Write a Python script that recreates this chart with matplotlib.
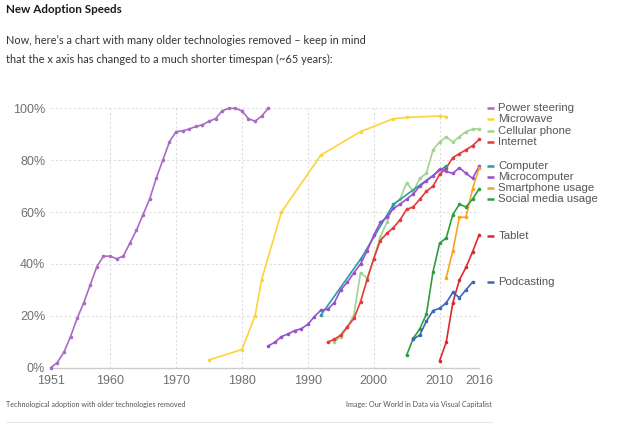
import matplotlib
matplotlib.use("Agg")
import matplotlib.pyplot as plt

# ---------------- data ----------------
ps_years = list(range(1951, 1985))
ps_vals = [0, 2, 6, 12, 19, 25, 32, 39, 43, 43, 42, 43, 48, 53, 59, 65, 73, 80, 87, 91,
           91.3, 92, 93, 93.6, 95, 96, 99, 100, 100, 99, 96, 95, 97, 100]

mw_years = [1975, 1980, 1982, 1983, 1986, 1992, 1998, 2003, 2005, 2010, 2011]
mw_vals = [3, 7, 20, 34, 60, 82, 91, 96, 96.5, 97, 96.8]

cell_years = list(range(1994, 2017))
cell_vals = [9.8, 12, 15.5, 20.5, 36.6, 34.5, 42, 50.5, 56, 62.7, 65, 71.3, 68, 73, 75,
             84, 87, 89, 87, 89, 91, 92, 92]

net_years = list(range(1993, 2017))
net_vals = [9.8, 10.9, 12.6, 15.8, 19, 25.4, 34, 42, 49, 51.8, 54, 57, 61, 62, 65, 68,
            70, 74.5, 77, 81, 82.5, 84, 85.6, 88]

comp_years = [1992, 1998, 2003, 2011]
comp_vals = [20.3, 41.8, 63, 77.8]

micro_years = list(range(1984, 2017))
micro_vals = [8.4, 9.8, 12, 13, 14.3, 15, 16.7, 19.7, 22.2, 22.5, 25, 30, 33, 36.6, 40,
              45, 51, 56, 58, 61.4, 63, 65, 67, 70, 72, 74, 76.6, 75.7, 74.9, 77.1, 74.9,
              73, 77.7]

smart_years = list(range(2011, 2017))
smart_vals = [34.7, 45, 58, 58, 69, 77]

social_years = list(range(2005, 2017))
social_vals = [4.9, 11.3, 15, 20.7, 37, 48, 50, 59, 63, 62, 65, 69]

tablet_years = list(range(2010, 2017))
tablet_vals = [2.7, 9.8, 25, 33.8, 38.7, 44.7, 51.2]

pod_years = list(range(2006, 2016))
pod_vals = [11, 12.6, 18, 22, 22.9, 25, 29, 27, 30, 33]

series_names = ["Power steering", "Microwave", "Cellular phone", "Internet", "Computer",
                "Microcomputer", "Smartphone usage", "Social media usage", "Tablet",
                "Podcasting"]

x_ticks = [1951, 1960, 1970, 1980, 1990, 2000, 2010, 2016]
y_ticks = [0, 20, 40, 60, 80, 100]

# ---------------- style ----------------
colors = ["#a86cc4", "#fcd43a", "#9fd590", "#e8383a", "#2a9aa6",
          "#9b4fcf", "#f8a227", "#2f9c40", "#d92b2e", "#3a67b6"]
# vertical label positions (in % units) for the end labels
label_y = [100, 95.8, 91.1, 86.9, 77.9, 73.6, 69.1, 65.0, 50.9, 32.9]

series = [(ps_years, ps_vals), (mw_years, mw_vals), (cell_years, cell_vals),
          (net_years, net_vals), (comp_years, comp_vals), (micro_years, micro_vals),
          (smart_years, smart_vals), (social_years, social_vals),
          (tablet_years, tablet_vals), (pod_years, pod_vals)]

plt.rcParams['font.family'] = ['Liberation Sans', 'DejaVu Sans']

fig = plt.figure(figsize=(6.4, 4.33), dpi=100)
ax = fig.add_axes([0.0793, 0.1508, 0.7487 - 0.0793, 0.7499 - 0.1508])
ax.set_xlim(1951, 2016)
ax.set_ylim(0, 100)

for gx in [1960, 1970, 1980, 1990, 2000, 2010]:
    ax.axvline(gx, color="#dddddd", lw=0.8, ls=(0, (2, 2)), zorder=0)
for gy in [20, 40, 60, 80, 100]:
    ax.axhline(gy, color="#dddddd", lw=0.8, ls=(0, (2, 2)), zorder=0)

for (xs, ys), c in zip(series, colors):
    ax.plot(xs, ys, color=c, lw=1.2, marker="o", ms=2.6, mew=0, clip_on=False, zorder=3)

for spine in ["top", "right", "left"]:
    ax.spines[spine].set_visible(False)
ax.spines["bottom"].set_color("#cccccc")
ax.spines["bottom"].set_linewidth(1.0)

ax.set_xticks(x_ticks)
ax.set_xticklabels([str(t) for t in x_ticks])
ax.set_yticks(y_ticks)
ax.set_yticklabels([f"{t}%" for t in y_ticks])
ax.tick_params(axis="both", length=0, labelsize=9, labelcolor="#707070")
ax.tick_params(axis="x", pad=5.5)
ax.tick_params(axis="y", pad=4)

# end labels (legend)
for name, c, ly in zip(series_names, colors, label_y):
    ax.plot([2017.2, 2018.2], [ly, ly], color=c, lw=1.8, clip_on=False,
            solid_capstyle="butt")
    ax.text(2018.9, ly, name, fontsize=8.2, color="#555555", va="center",
            ha="left", clip_on=False)

# titles
fig.text(6.5 / 640, 1 - 9.5 / 433, "New Adoption Speeds", fontsize=8.4,
         fontweight="bold", color="#1a1a1a", va="center", ha="left",
         family=["Lato", "DejaVu Sans"])
fig.text(6.5 / 640, 1 - 40 / 433,
         "Now, here\u2019s a chart with many older technologies removed \u2013 keep in mind",
         fontsize=7.95, color="#333333", va="center", ha="left",
         family=["Lato", "DejaVu Sans"])
fig.text(6.5 / 640, 1 - 59.3 / 433,
         "that the x axis has changed to a much shorter timespan (~65 years):",
         fontsize=7.95, color="#333333", va="center", ha="left",
         family=["Lato", "DejaVu Sans"])

fig.text(6 / 640, 1 - 405 / 433, "Technological adoption with older technologies removed",
         fontsize=5.2, color="#555555", va="center", ha="left",
         family=["Lato", "DejaVu Sans"])
fig.text(491.7 / 640, 1 - 405 / 433, "Image: Our World in Data via Visual Capitalist",
         fontsize=5.2, color="#555555", va="center", ha="right",
         family=["Lato", "DejaVu Sans"])
fig.add_artist(plt.Line2D([6 / 640, 491.7 / 640], [1 - 421.7 / 433, 1 - 421.7 / 433],
                          color="#e6e6e6", lw=0.8))

fig.savefig("out.png", dpi=100, facecolor="white")
